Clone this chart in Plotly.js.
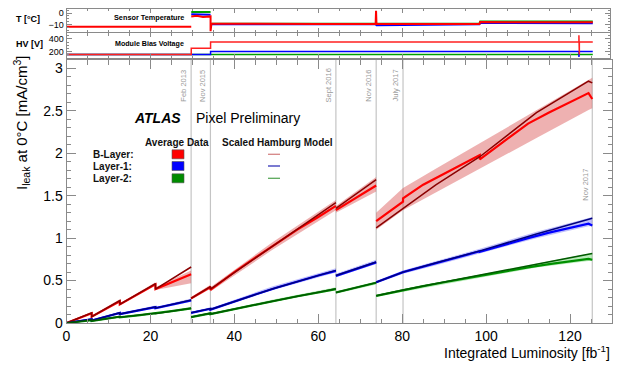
<!DOCTYPE html>
<html><head><meta charset="utf-8">
<script src="https://cdn.plot.ly/plotly-3.0.1.min.js"></script>
<style>html,body{margin:0;padding:0;background:#fff}#c{width:621px;height:371px}</style>
</head><body><div id="c"></div>
<script>
// ---------- data ----------
// model (Scaled Hamburg) points, null = break
const modelX  = [0, 6.0, 6.0, 12.7, 12.7, 21.2, 21.2, 29.7, null, 29.7, 34.3, 34.3, 49, 64.2, null, 64.2, 73.8, null, 73.8, 80.2, 88.1, 98.5, 112, 124.4, 125.3];
const bModel  = [0, 0.12, 0.075, 0.265, 0.22, 0.465, 0.40, 0.66, null, 0.29, 0.43, 0.40, 0.90, 1.42, null, 1.35, 1.69, null, 1.12, 1.35, 1.63, 1.96, 2.48, 2.85, 2.83];
const l1Model = [0, 0.045, 0.03, 0.12, 0.105, 0.19, 0.175, 0.27, null, 0.12, 0.17, 0.16, 0.40, 0.62, null, 0.56, 0.72, null, 0.48, 0.60, 0.71, 0.85, 1.05, 1.22, 1.235];
const l2Model = [0, 0.035, 0.025, 0.075, 0.068, 0.115, 0.11, 0.175, null, 0.07, 0.115, 0.105, 0.257, 0.405, null, 0.36, 0.476, null, 0.32, 0.39, 0.465, 0.565, 0.69, 0.81, 0.82];
// model uncertainty bands (same x as model)
const bLow   = [0, 0.108, 0.063, 0.25, 0.208, 0.45, 0.39, 0.47, null, 0.275, 0.405, 0.37, 0.86, 1.33, null, 1.30, 1.55, null, 1.10, 1.33, 1.54, 1.82, 2.18, 2.51, 2.53];
const bHigh  = [0.01, 0.132, 0.087, 0.28, 0.232, 0.48, 0.42, 0.62, null, 0.305, 0.45, 0.42, 0.95, 1.45, null, 1.38, 1.72, null, 1.30, 1.59, 1.82, 2.12, 2.51, 2.87, 2.89];
const l1Low  = [0, 0.035, 0.02, 0.108, 0.093, 0.175, 0.16, 0.25, null, 0.11, 0.155, 0.145, 0.385, 0.595, null, 0.54, 0.695, null, 0.465, 0.58, 0.68, 0.815, 1.0, 1.14, 1.14];
const l1High = [0.005, 0.055, 0.04, 0.132, 0.117, 0.205, 0.19, 0.29, null, 0.13, 0.185, 0.175, 0.43, 0.645, null, 0.58, 0.745, null, 0.495, 0.62, 0.73, 0.875, 1.075, 1.245, 1.25];
const l2Low  = [0, 0.028, 0.018, 0.067, 0.06, 0.105, 0.10, 0.16, null, 0.062, 0.105, 0.095, 0.245, 0.385, null, 0.345, 0.455, null, 0.31, 0.375, 0.44, 0.535, 0.655, 0.73, 0.73];
const l2High = [0.004, 0.042, 0.032, 0.083, 0.076, 0.125, 0.12, 0.19, null, 0.078, 0.125, 0.115, 0.275, 0.42, null, 0.375, 0.49, null, 0.33, 0.40, 0.475, 0.575, 0.70, 0.82, 0.825];
// average data
const dataX = [0, 3, 6.0, 6.0, 9.5, 12.7, 12.7, 17, 21.2, 21.2, 25.5, 29.7, null, 29.7, 32, 34.3, 34.3, 40, 45, 50, 55, 60, 64.2, null, 64.2, 69, 73.8, null, 73.8, 77, 80.2, 80.2, 85, 90, 95, 98.5, 98.5, 105, 110, 115, 120, 124.4, 125.3];
const bData  = [0, 0.06, 0.115, 0.075, 0.17, 0.255, 0.22, 0.34, 0.455, 0.40, 0.49, 0.575, null, 0.29, 0.36, 0.425, 0.39, 0.60, 0.77, 0.94, 1.10, 1.25, 1.38, null, 1.33, 1.48, 1.62, null, 1.20, 1.32, 1.43, 1.47, 1.63, 1.76, 1.89, 1.98, 1.93, 2.17, 2.35, 2.48, 2.60, 2.71, 2.64];
const l1Data = [0, 0.022, 0.044, 0.03, 0.075, 0.118, 0.105, 0.147, 0.188, 0.175, 0.22, 0.265, null, 0.12, 0.145, 0.168, 0.158, 0.255, 0.335, 0.415, 0.49, 0.56, 0.615, null, 0.555, 0.635, 0.715, null, 0.48, 0.54, 0.595, 0.60, 0.665, 0.735, 0.80, 0.845, 0.84, 0.935, 1.00, 1.065, 1.12, 1.17, 1.15];
const l2Data = [0, 0.017, 0.034, 0.025, 0.05, 0.074, 0.068, 0.09, 0.113, 0.11, 0.142, 0.172, null, 0.07, 0.093, 0.113, 0.105, 0.165, 0.215, 0.265, 0.315, 0.36, 0.40, null, 0.36, 0.418, 0.474, null, 0.32, 0.355, 0.388, 0.39, 0.435, 0.48, 0.525, 0.555, 0.555, 0.615, 0.655, 0.695, 0.73, 0.755, 0.745];
// sensor temperature [°C]
const tRedX   = [0, 29.7, null, 29.7, 31, 32.5, 34.3, 34.3, 34.5, 40, 50, 60, 73.6, 73.7, 73.8, 85, 98.3, 98.5, 110, 125.3];
const tRed    = [-12, -12, null, -3, -2.5, -3.5, -3, -16, -9.5, -9.5, -9.8, -9.6, -9.6, 2, -9.5, -9.5, -9.7, -8, -8, -8.2];
const tBlueX  = [29.7, 34.3, null, 34.5, 60, 73.6, 73.8, 98.3, 98.5, 125.3];
const tBlue   = [-1, -1.5, null, -10, -10.2, -10, -10.8, -10, -8.8, -9];
const tGreenX = [29.7, 34.3, null, 34.5, 73.7, 98.3, 98.5, 125.3];
const tGreen  = [1, 1, null, -9.5, -9.5, -9.5, -7.5, -7.5];
// module bias voltage [V]
const hvRedX   = [0, 29.7, 29.7, 34.3, 34.3, 122, 122, 122.1, 122.1, 125.3];
const hvRed    = [150, 150, 250, 250, 350, 350, 460, 150, 350, 350];
const hvBlueX  = [0, 34.3, 34.3, 122, 122, 122.1, 125.3];
const hvBlue   = [150, 150, 200, 200, 110, 200, 200];
const hvGreenX = [0, 125.3];
const hvGreen  = [150, 150];
// run-period markers
const eventLumi   = [29.7, 34.3, 64.2, 73.8, 80.2, 125.3];
const eventLabels = ['Feb 2013', 'Nov 2015', 'Sept 2016', 'Nov 2016', 'July 2017', 'Nov 2017'];
const eventTopPx  = [68, 68, 66, 68, 68, 167];
const layerNames  = ['B-Layer:', 'Layer-1:', 'Layer-2:'];

// ---------- helpers ----------
const W = 621, H = 371;
const px = v => v / W, py = v => 1 - v / H;
const FONT = 'Liberation Sans, Arial, Helvetica, sans-serif';

function bandPolygon(x, lo, hi) {
  const ox = [], oy = [];
  let seg = [];
  const flush = () => {
    if (!seg.length) return;
    seg.forEach(i => { ox.push(x[i]); oy.push(hi[i]); });
    seg.slice().reverse().forEach(i => { ox.push(x[i]); oy.push(lo[i]); });
    ox.push(null); oy.push(null); seg = [];
  };
  for (let i = 0; i < x.length; i++) { if (x[i] === null) flush(); else seg.push(i); }
  flush();
  return {x: ox, y: oy};
}

const traces = [];
const bands = [[bLow, bHigh, 'rgba(215,70,70,0.42)'], [l1Low, l1High, 'rgba(90,90,245,0.38)'], [l2Low, l2High, 'rgba(90,210,90,0.42)']];
bands.forEach(([lo, hi, c]) => {
  const p = bandPolygon(modelX, lo, hi);
  traces.push({x: p.x, y: p.y, type: 'scatter', mode: 'lines', fill: 'toself', fillcolor: c, line: {width: 0}, hoverinfo: 'skip', xaxis: 'x', yaxis: 'y'});
});
[[bData, '#ff0000'], [l1Data, '#0000ff'], [l2Data, '#009000']].forEach(([d, c]) => {
  traces.push({x: dataX, y: d, type: 'scatter', mode: 'lines', line: {color: c, width: 2.2}, xaxis: 'x', yaxis: 'y'});
});
[[bModel, '#8b0000'], [l1Model, '#000080'], [l2Model, '#005a00']].forEach(([d, c]) => {
  traces.push({x: modelX, y: d, type: 'scatter', mode: 'lines', line: {color: c, width: 1.5}, xaxis: 'x', yaxis: 'y'});
});
// temperature panel
[[tGreenX, tGreen, '#00a000'], [tBlueX, tBlue, '#0000ff'], [tRedX, tRed, '#ff0000']].forEach(([x, y, c]) => {
  traces.push({x: x, y: y, type: 'scatter', mode: 'lines', line: {color: c, width: 2}, xaxis: 'x3', yaxis: 'y3'});
});
// HV panel
[[hvGreenX, hvGreen, '#00a000'], [hvBlueX, hvBlue, '#0000ff'], [hvRedX, hvRed, '#ff2020']].forEach(([x, y, c]) => {
  traces.push({x: x, y: y, type: 'scatter', mode: 'lines', line: {color: c, width: 1.5}, xaxis: 'x2', yaxis: 'y2'});
});

const AXC = '#8a8a8a';
const tickFont = {family: FONT, size: 14, color: '#000'};
const smallTick = {family: FONT, size: 9, color: '#000'};
const xCommon = {showline: true, linecolor: AXC, linewidth: 1, mirror: 'allticks', ticks: 'inside', tickcolor: AXC, showgrid: false, zeroline: false, dtick: 20, tick0: 0};

const layout = {
  width: W, height: H, margin: {l: 0, r: 0, t: 0, b: 0},
  paper_bgcolor: '#fff', plot_bgcolor: '#fff', showlegend: false, hovermode: false,
  font: {family: FONT},
  xaxis: Object.assign({}, xCommon, {domain: [px(66.5), px(612)], range: [0, 130], anchor: 'y', ticklen: 9,
    minor: {dtick: 5, ticklen: 4.5, ticks: 'inside', tickcolor: AXC}, tickfont: tickFont}),
  yaxis: {domain: [py(323), py(60)], range: [0, 3.1], anchor: 'x', showline: true, linecolor: AXC, mirror: 'allticks',
    ticks: 'inside', tickcolor: AXC, ticklen: 9, dtick: 0.5, showgrid: false, zeroline: false,
    minor: {dtick: 0.1, ticklen: 4.5, ticks: 'inside', tickcolor: AXC}, tickfont: tickFont},
  xaxis2: Object.assign({}, xCommon, {domain: [px(66.5), px(610)], range: [0, 129.4], anchor: 'y2', ticklen: 4, showticklabels: false,
    minor: {dtick: 5, ticklen: 2.5, ticks: 'inside', tickcolor: AXC}}),
  yaxis2: {domain: [py(58.3), py(33.3)], range: [90, 490], anchor: 'x2', showline: true, linecolor: AXC, mirror: 'allticks',
    ticks: 'inside', tickcolor: AXC, ticklen: 5, tickvals: [200, 400], showgrid: false, zeroline: false,
    minor: {dtick: 50, ticklen: 2.5, ticks: 'inside', tickcolor: AXC}, tickfont: smallTick},
  xaxis3: Object.assign({}, xCommon, {domain: [px(66.5), px(610)], range: [0, 129.4], anchor: 'y3', ticklen: 4, showticklabels: false,
    minor: {dtick: 5, ticklen: 2.5, ticks: 'inside', tickcolor: AXC}}),
  yaxis3: {domain: [py(32.3), py(8.5)], range: [-17, 4], anchor: 'x3', showline: true, linecolor: AXC, mirror: 'allticks',
    ticks: 'inside', tickcolor: AXC, ticklen: 5, tickvals: [-10, 0], showgrid: false, zeroline: false,
    minor: {dtick: 2.5, ticklen: 2.5, ticks: 'inside', tickcolor: AXC}, tickfont: smallTick},
  shapes: [], annotations: []
};

// event lines and labels
eventLumi.forEach((x, i) => {
  layout.shapes.push({type: 'line', xref: 'x', yref: 'y domain', x0: x, x1: x, y0: 0, y1: 1, layer: 'below', line: {color: '#c4c4c4', width: 1.2}});
  layout.annotations.push({text: eventLabels[i], xref: 'x', x: x, xanchor: 'right', yref: 'paper', y: py(eventTopPx[i]), yanchor: 'top',
    textangle: -90, showarrow: false, font: {family: FONT, size: 7.5, color: '#9a9a9a'}, xshift: -1});
});

// legend block
const lg = {family: FONT, size: 10, color: '#111'};
const rowY = [154.3, 166, 178.3];
const boxC = ['#ff0000', '#0000ff', '#008c00'];
const lineC = ['#d58585', '#3434b8', '#5aa85a'];
rowY.forEach((y, i) => {
  layout.annotations.push({text: '<b>' + layerNames[i] + '</b>', xref: 'paper', yref: 'paper', x: px(91.5), y: py(y), xanchor: 'left', yanchor: 'middle', showarrow: false, font: lg});
  layout.shapes.push({type: 'rect', xref: 'paper', yref: 'paper', x0: px(172), x1: px(184), y0: py(y + 4.5), y1: py(y - 4.5), fillcolor: boxC[i], line: {color: '#555', width: 0.6}});
  layout.shapes.push({type: 'line', xref: 'paper', yref: 'paper', x0: px(268), x1: px(280), y0: py(y), y1: py(y), line: {color: lineC[i], width: 1.3}});
});
const ann = (text, x, y, opts) => layout.annotations.push(Object.assign({text: text, xref: 'paper', yref: 'paper', x: px(x), y: py(y), xanchor: 'left', yanchor: 'middle', showarrow: false}, opts));
ann('<b>Average Data</b>', 143, 142.7, {font: lg});
ann('<b>Scaled Hamburg Model</b>', 220, 142.5, {font: lg});
ann('<b><i>ATLAS</i></b>', 131.5, 118, {font: {family: FONT, size: 14, color: '#000'}});
ann('Pixel Preliminary', 193.5, 118, {font: {family: FONT, size: 14, color: '#000'}});
ann('<b>T [°C]</b>', 14, 19, {font: {family: FONT, size: 9, color: '#000'}});
ann('<b>HV [V]</b>', 14, 44, {font: {family: FONT, size: 9, color: '#000'}});
ann('<b>Sensor Temperature</b>', 111.5, 17, {font: {family: FONT, size: 7.3, color: '#000'}});
ann('<b>Module Bias Voltage</b>', 112.5, 44, {font: {family: FONT, size: 7.1, color: '#000'}});
ann('I<sub>leak</sub> at 0°C [mA/cm<sup>3</sup>]', 21, 123, {xanchor: 'center', textangle: -90, font: {family: FONT, size: 15, color: '#000'}});
ann('Integrated Luminosity [fb<sup>-1</sup>]', 612, 352, {xanchor: 'right', font: {family: FONT, size: 14, color: '#000'}});

Plotly.newPlot('c', traces, layout, {staticPlot: true, displayModeBar: false});
</script></body></html>
